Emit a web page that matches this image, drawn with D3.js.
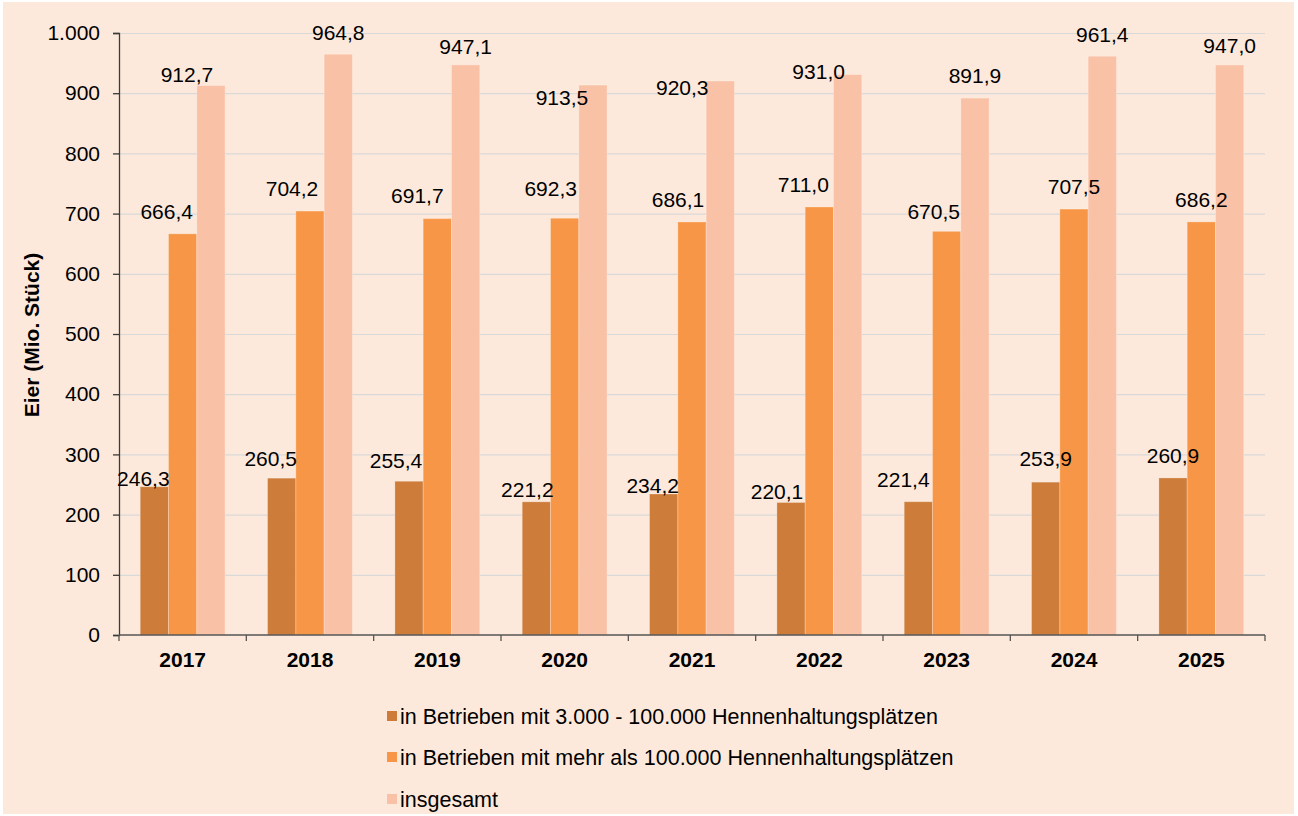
<!DOCTYPE html>
<html lang="de">
<head>
<meta charset="utf-8">
<script src="https://cdn.jsdelivr.net/npm/d3@7/dist/d3.min.js"></script>
<style>
  html, body { margin: 0; padding: 0; background: #ffffff; }
  svg { display: block; font-family: "Liberation Sans", Arial, sans-serif; }
</style>
</head>
<body>
<svg id="chart" width="1298" height="816"></svg>
<script>
// Jahre und Eiererzeugung (Mio. Stück)
const years = ["2017", "2018", "2019", "2020", "2021", "2022", "2023", "2024", "2025"];
const small = [246.3, 260.5, 255.4, 221.2, 234.2, 220.1, 221.4, 253.9, 260.9];
const large = [666.4, 704.2, 691.7, 692.3, 686.1, 711.0, 670.5, 707.5, 686.2];
const total = [912.7, 964.8, 947.1, 913.5, 920.3, 931.0, 891.9, 961.4, 947.0];
const seriesNames = [
  "in Betrieben mit 3.000 - 100.000 Hennenhaltungsplätzen",
  "in Betrieben mit mehr als 100.000 Hennenhaltungsplätzen",
  "insgesamt"
];
const yTicks = [0, 100, 200, 300, 400, 500, 600, 700, 800, 900, 1000];
const yTitle = "Eier (Mio. Stück)";

// Darstellung
const colors = ["#CD7C39", "#F79646", "#F9C2A7"];
const fontSize = 21;
// manuell verschobene Beschriftungen [dx, dy] je Reihe und Jahr
const labelShift = [
  [[-11, 14], [-11, 2], [-13, 1], [-9, 10], [-11, 14], [-14, 11], [-15, 0], [0, -2], [0, 0]],
  [[-16, 0], [-18, 0], [-20, -1], [-14, -8], [-14, 0], [-16, 0], [-13, 2], [0, 0], [0, 0]],
  [[-24, 11], [0, 0], [0, 4], [-31, 35], [-38, 29], [-29, 19], [0, 0], [0, 0], [0, 3]]
];

const fmt = v => v.toFixed(1).replace(".", ",");
const fmtTick = v => d3.format(",")(v).replace(/,/g, ".");

const svg = d3.select("#chart");
svg.append("rect").attr("x", 3).attr("y", 2).attr("width", 1291).attr("height", 812)
  .attr("fill", "#FDE9DB");

const plotL = 119, plotR = 1265, plotT = 33, plotB = 635;
const x0 = d3.scaleBand().domain(years).range([plotL, plotR]).paddingInner(0).paddingOuter(0);
const x1 = d3.scaleBand().domain([0, 1, 2]).range([0, x0.bandwidth()]).paddingOuter(0.75).paddingInner(0);
const y = d3.scaleLinear().domain([0, 1000]).range([plotB, plotT]);

// Gitterlinien
svg.append("g").selectAll("line").data(yTicks.filter(t => t > 0)).join("line")
  .attr("x1", plotL).attr("x2", plotR)
  .attr("y1", d => y(d) + 0.5).attr("y2", d => y(d) + 0.5)
  .attr("stroke", "#D9D9D9").attr("stroke-width", 1.2);

const series = [small, large, total];

// Säulen
const gBars = svg.append("g");
series.forEach((vals, s) => {
  gBars.selectAll(null).data(vals).join("rect")
    .attr("x", (d, i) => x0(years[i]) + x1(s))
    .attr("width", x1.bandwidth())
    .attr("y", d => y(d))
    .attr("height", d => y(0) - y(d))
    .attr("fill", colors[s])
    .attr("stroke", "rgba(255,255,255,0.25)")
    .attr("stroke-width", 1);
});

// Y-Achse
const yAxis = svg.append("g").attr("transform", `translate(${plotL},0)`)
  .call(d3.axisLeft(y).tickValues(yTicks).tickFormat(fmtTick).tickSize(6).tickPadding(13));
yAxis.select(".domain").attr("stroke", "#3a3a3a").attr("stroke-width", 1.3);
yAxis.selectAll(".tick line").attr("stroke", "#3a3a3a").attr("stroke-width", 1.3);
yAxis.selectAll("text").attr("font-size", fontSize).attr("fill", "#000")
  .attr("font-family", "Liberation Sans, Arial, sans-serif");

// X-Achse
const xAxisG = svg.append("g");
xAxisG.append("line").attr("x1", plotL).attr("x2", plotR).attr("y1", plotB).attr("y2", plotB)
  .attr("stroke", "#555").attr("stroke-width", 1.3);
const bounds = years.map(yr => x0(yr)).concat([plotR]);
xAxisG.selectAll("line.tk").data(bounds).join("line").attr("class", "tk")
  .attr("x1", d => d).attr("x2", d => d).attr("y1", plotB).attr("y2", plotB + 6)
  .attr("stroke", "#555").attr("stroke-width", 1.3);
xAxisG.selectAll("text").data(years).join("text")
  .attr("x", d => x0(d) + x0.bandwidth() / 2)
  .attr("y", 660).attr("dy", "0.35em")
  .attr("text-anchor", "middle").attr("font-size", fontSize).attr("font-weight", "bold")
  .text(d => d);

// Achsentitel
svg.append("text")
  .attr("transform", "translate(32,335) rotate(-90)")
  .attr("text-anchor", "middle").attr("dy", "0.35em")
  .attr("font-size", fontSize).attr("font-weight", "bold")
  .text(yTitle);

// Datenbeschriftungen
const gLab = svg.append("g");
series.forEach((vals, s) => {
  gLab.selectAll(null).data(vals).join("text")
    .attr("x", (d, i) => x0(years[i]) + x1(s) + x1.bandwidth() / 2 + labelShift[s][i][0])
    .attr("y", (d, i) => y(d) - 22 + labelShift[s][i][1])
    .attr("dy", "0.35em")
    .attr("text-anchor", "middle").attr("font-size", fontSize).attr("fill", "#000")
    .text(d => fmt(d));
});

// Legende
const leg = svg.append("g").attr("transform", "translate(387,0)");
const legY = [716, 757, 799];
seriesNames.forEach((name, s) => {
  leg.append("rect").attr("x", 0).attr("y", legY[s] - 5).attr("width", 10).attr("height", 10)
    .attr("fill", colors[s]);
  leg.append("text").attr("x", 13).attr("y", legY[s]).attr("dy", "0.35em")
    .attr("font-size", 21.5).text(name);
});
</script>
</body>
</html>
